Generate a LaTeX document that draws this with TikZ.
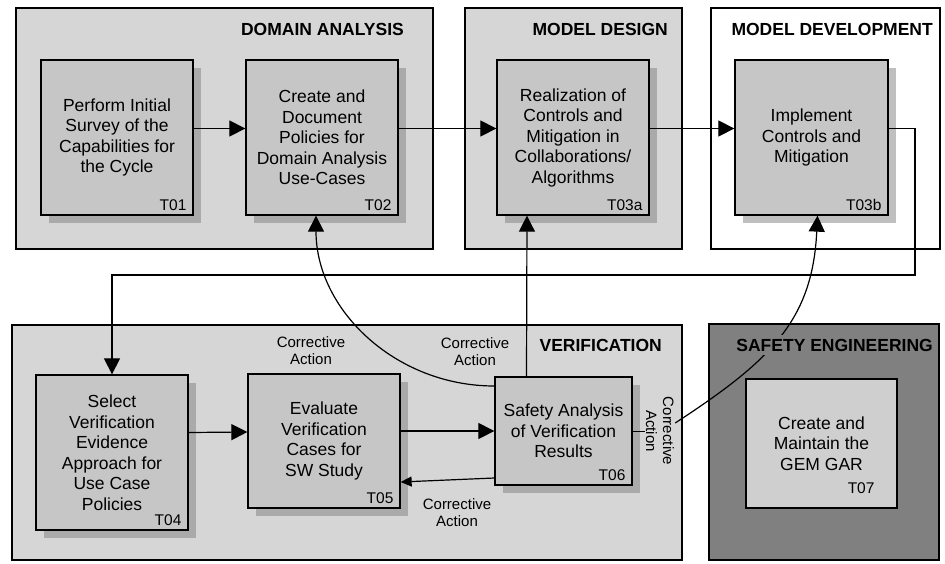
\documentclass[tikz,border=0pt]{standalone}
\usepackage{fontspec}
\setmainfont{Liberation Sans}
\usetikzlibrary{arrows.meta,shadows}

\newcommand\tasktext{\fontsize{17.5}{20.5}\selectfont}
\newcommand\idtext{\fontsize{15.5}{17}\selectfont}
\newcommand\notetext{\fontsize{15}{17}\selectfont}
\newcommand\phasetext{\fontsize{17.5}{20}\selectfont\bfseries}

\begin{document}
\begin{tikzpicture}
      [x=1pt,y=-1pt,
       phase/.style={rectangle,draw,line width=1.3pt,fill=gray!32,inner sep=0pt},
       task/.style={rectangle,draw,line width=1.3pt,fill=gray!45,align=center,inner sep=0pt,
                    font=\tasktext,drop shadow={shadow xshift=8pt,shadow yshift=-8pt,opacity=.5}},
       taskid/.style={anchor=south east,inner xsep=7pt,inner ysep=5pt,font=\idtext},
       title/.style={anchor=east,inner sep=2pt,font=\phasetext},
       note/.style={align=center,inner sep=1pt,font=\notetext},
       flow/.style={line width=1.2pt},
       >={Triangle[length=16pt,width=16pt]}]
      \path[use as bounding box,fill=white] (0,0) rectangle (945,563) ;
      % phases
      \node[phase,minimum width=417pt,minimum height=241pt] (da) at (224.5,128.5) {} ;
      \node[phase,minimum width=217pt,minimum height=241pt] (md) at (573.5,128.5) {} ;
      \node[phase,fill=white,minimum width=229pt,minimum height=241pt] (mdev) at (825.5,128.5) {} ;
      \node[phase,minimum width=670pt,minimum height=235pt] (ver) at (347,442.5) {} ;
      \node[phase,fill=black!50,minimum width=230pt,minimum height=236pt] (se) at (824,442) {} ;
      % tasks
      \node[task,minimum width=152pt,minimum height=155pt] (t01) at (117,137.5)
        {Perform Initial\\Survey of the\\Capabilities for\\the Cycle} ;
      \node[task,minimum width=152pt,minimum height=155pt] (t02) at (322,137.5)
        {Create and\\Document\\Policies for\\Domain Analysis\\Use-Cases} ;
      \node[task,minimum width=152pt,minimum height=155pt] (t03a) at (573,137.5)
        {Realization of\\Controls and\\Mitigation in\\Collaborations/\\Algorithms} ;
      \node[task,minimum width=153pt,minimum height=155pt] (t03b) at (811.5,137.5)
        {Implement\\Controls and\\Mitigation} ;
      \node[task,minimum width=152pt,minimum height=155pt] (t04) at (112,452.5)
        {Select\\Verification\\Evidence\\Approach for\\Use Case\\Policies} ;
      \node[task,minimum width=152pt,minimum height=134pt] (t05) at (324,441)
        {Evaluate\\Verification\\Cases for\\SW Study} ;
      \node[task,minimum width=137pt,minimum height=108pt] (t06) at (563.5,431)
        {Safety Analysis\\of Verification\\Results} ;
      \node[task,fill=gray!38,minimum width=151pt,minimum height=129pt] (t07) at (821.5,443.5)
        {Create and\\Maintain the\\GEM GAR} ;
      \node[taskid] (t01id) at (t01.south east) {T01} ;
      \node[taskid] (t02id) at (t02.south east) {T02} ;
      \node[taskid] (t03aid) at (t03a.south east) {T03a} ;
      \node[taskid] (t03bid) at (t03b.south east) {T03b} ;
      \node[taskid] (t04id) at (t04.south east) {T04} ;
      \node[taskid] (t05id) at (t05.south east) {T05} ;
      \node[taskid] (t06id) at (t06.south east) {T06} ;
      \node[taskid,xshift=-16pt,yshift=10pt] (t07id) at (t07.south east) {T07} ;
      % corrective action notes
      \node[note] (ca1) at (311,351) {Corrective\\Action} ;
      \node[note] (ca2) at (475,352) {Corrective\\Action} ;
      \node[note] (ca3) at (457,513) {Corrective\\Action} ;
      \node[note,rotate=-90] (ca4) at (660,431) {Corrective\\Action} ;
      \coordinate (turn) at (915,275) ;
      % flows
      \draw[->,flow] ([yshift=9pt]t01.east) to ([yshift=9pt]t02.west) ;
      \draw[->,flow] ([yshift=9pt]t02.east) to ([yshift=9pt]t03a.west) ;
      \draw[->,flow] ([yshift=9pt]t03a.east) to ([yshift=9pt]t03b.west) ;
      \draw[->,flow] ([yshift=9pt]t03b.east) -| (turn) -| (t04.north) ;
      \draw[->,flow] ([yshift=20pt]t04.east) to ([yshift=9pt]t05.west) ;
      \draw[->,flow] (t05.east |- t06.west) to (t06.west) ;
      \draw[-{Triangle[length=11pt,width=10pt]},flow] ([yshift=-47pt]t06.west) to ([yshift=-41pt]t05.east) ;
      \draw[->,flow] ([yshift=45pt]t06.west) .. controls +(-99,0) and +(0,94) .. ([xshift=-6pt]t02.south) ;
      \draw[->,flow] ([xshift=-37pt]t06.north) to ([xshift=-46pt]t03a.south) ;
      \draw[thin] (t06.east) to (ca4.south) ;
      \draw[->,flow] ([yshift=8pt]ca4.north) .. controls +(95,-62) and +(-5,105) .. ([xshift=6pt]t03b.south) ;
      % titles
      \node[title] (datitle) at (406,29) {DOMAIN ANALYSIS} ;
      \node[title] (mdtitle) at (670,29) {MODEL DESIGN} ;
      \node[title] (mdevtitle) at (935,29) {MODEL DEVELOPMENT} ;
      \node[title] (vertitle) at (664,345) {VERIFICATION} ;
      \node[title,fill=black!50,inner sep=4pt] (setitle) at (937,345) {SAFETY ENGINEERING} ;
    \end{tikzpicture}
\end{document}
